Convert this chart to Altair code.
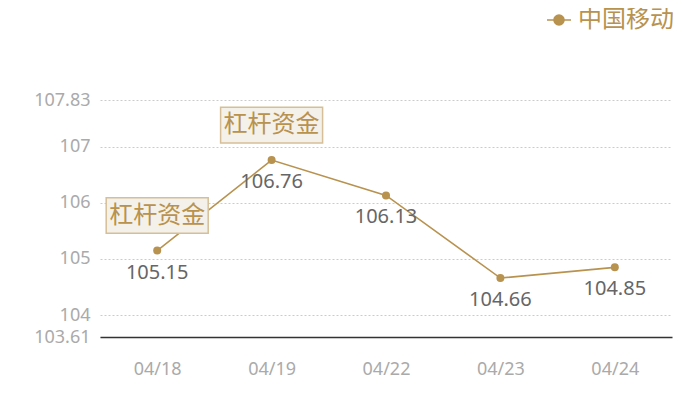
import altair as alt
import pandas as pd

dates = ["04/18", "04/19", "04/22", "04/23", "04/24"]
values = [105.15, 106.76, 106.13, 104.66, 104.85]
series_name = "中国移动"
annot_dates = ["04/18", "04/19"]
annot_text = ["杠杆资金", "杠杆资金"]
y_ticks = [103.61, 104, 105, 106, 107, 107.83]
y_domain = [103.61, 107.83]

TAN = "#b8924f"
FONT = "Noto Sans, Noto Sans CJK SC"

df = pd.DataFrame({"date": dates, "value": values, "series": series_name})
adf = pd.DataFrame({"date": annot_dates, "text": annot_text})
adf = adf.merge(df[["date", "value"]], on="date")

xenc = alt.X("date:N", sort=dates, scale=alt.Scale(type="point", padding=0.5),
             axis=alt.Axis(title=None, labelAngle=0, labelColor="#aaaaaa", labelFontSize=18,
                           labelFont=FONT, labelPadding=23, ticks=False, domainColor="#333333",
                           domainWidth=1.5, grid=False))
yscale = alt.Scale(domain=y_domain, nice=False, zero=False)
yenc = alt.Y("value:Q", scale=yscale,
             axis=alt.Axis(title=None, values=y_ticks, labelExpr="'' + datum.value",
                           labelColor="#aaaaaa", labelFontSize=18, labelFont=FONT,
                           labelPadding=10, ticks=False, domain=False, grid=True,
                           gridColor="#cccccc", gridDash=[2, 2], gridWidth=1))

legend_path = "M-1,0L-0.42,0M0.42,0L1,0M-0.42,0A0.42,0.42,0,1,1,0.42,0A0.42,0.42,0,1,1,-0.42,0Z"

line = alt.Chart(df).mark_line(strokeWidth=1.6).encode(
    x=xenc, y=yenc,
    color=alt.Color("series:N", scale=alt.Scale(range=[TAN]),
                    legend=alt.Legend(title=None, orient="none", legendX=446, legendY=-93,
                                      symbolType=legend_path, symbolSize=576,
                                      symbolStrokeWidth=1.5, symbolFillColor=TAN,
                                      labelFontSize=24, labelColor=TAN, labelFont=FONT,
                                      labelOffset=6, labelLimit=200)))
pts = alt.Chart(df).mark_circle(size=64, opacity=1, color=TAN).encode(x="date:N", y="value:Q")
labels = alt.Chart(df).mark_text(dy=22, fontSize=20, color="#666666", font=FONT,
                                 baseline="middle").encode(x="date:N", y="value:Q",
                                                           text=alt.Text("value:Q", format=".2f"))

box_path = "M-1,-0.35L1,-0.35L1,0.35L-1,0.35Z"
boxes = alt.Chart(adf).mark_point(shape=box_path, size=10404, filled=True, fill="#f4f0ea",
                                  stroke="#d6bf98", strokeWidth=1.5, opacity=1,
                                  yOffset=-35).encode(x="date:N", y="value:Q")
atext = alt.Chart(adf).mark_text(dy=-35, fontSize=24, color=TAN, font=FONT,
                                 baseline="middle").encode(x="date:N", y="value:Q", text="text:N")

chart = alt.layer(line, pts, labels, boxes, atext).properties(
    width=572, height=237,
    padding={"left": 92, "top": 92, "right": 20, "bottom": 55},
    autosize=alt.AutoSizeParams(type="none"),
).configure_view(stroke=None)

chart.save("out.html", embed_options={"renderer": "svg", "actions": False})
